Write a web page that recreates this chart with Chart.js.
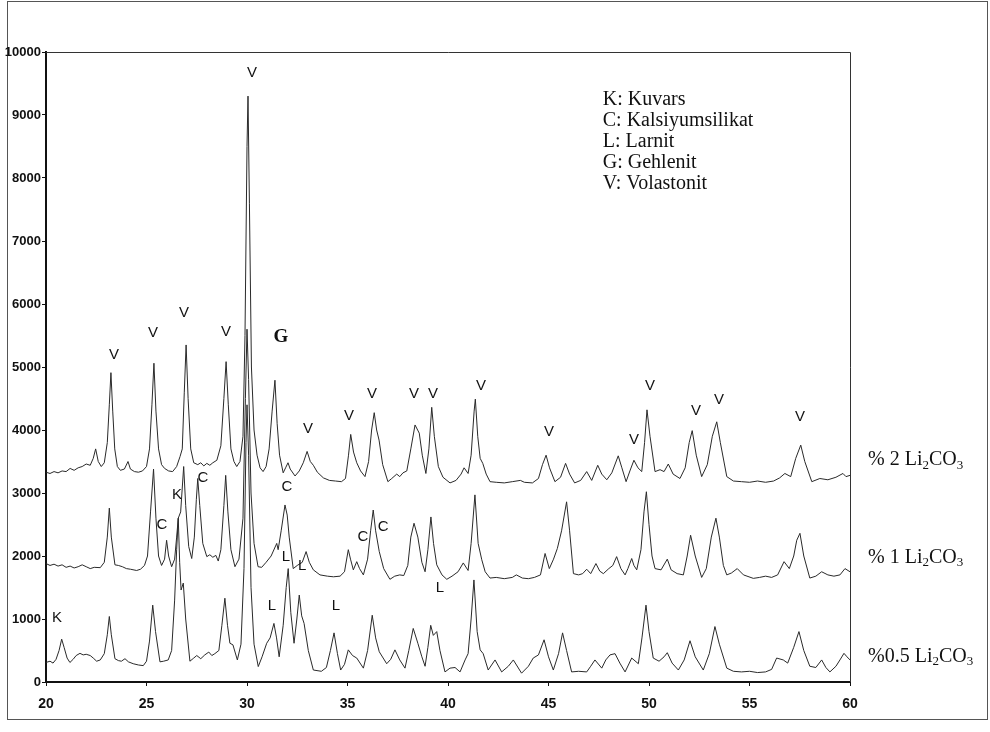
<!DOCTYPE html>
<html lang="tr">
<head>
    <meta charset="UTF-8">
    <title>XRD - Li2CO3</title>
    <style>
        body {
            margin: 0;
            background: #fff;
        }
        .chart-box {
            width: 990px;
            height: 732px;
        }
    </style>
</head>
<body>
    <div class="chart-box">
        <canvas id="xrdChart"></canvas>
    </div>

    <script src="https://cdn.jsdelivr.net/npm/chart.js"></script>
    <script>
// 2θ / şiddet verileri
const pattern2 = [
    [20.0,3330],[20.2,3310],[20.4,3340],[20.6,3320],[20.8,3350],[21.0,3340],[21.2,3390],[21.4,3360],[21.6,3400],[21.8,3420],
    [22.0,3460],[22.2,3440],[22.35,3550],[22.47,3700],[22.6,3500],[22.75,3420],[22.9,3480],[23.05,3800],[23.15,4400],[23.23,4910],
    [23.32,4300],[23.42,3700],[23.55,3420],[23.7,3360],[23.9,3380],[24.08,3500],[24.2,3380],[24.4,3340],[24.6,3330],[24.8,3350],
    [25.0,3420],[25.15,3700],[25.27,4400],[25.37,5060],[25.47,4300],[25.6,3700],[25.75,3450],[25.9,3390],[26.1,3350],[26.3,3340],
    [26.5,3420],[26.67,3580],[26.78,3700],[26.88,4600],[26.97,5350],[27.07,4500],[27.2,3700],[27.35,3480],[27.55,3450],[27.7,3480],
    [27.85,3430],[28.0,3470],[28.15,3440],[28.3,3480],[28.5,3520],[28.7,3750],[28.85,4500],[28.96,5085],[29.07,4400],[29.2,3700],
    [29.35,3500],[29.49,3420],[29.65,3500],[29.8,3900],[29.9,5500],[30.0,8500],[30.05,9300],[30.12,7600],[30.22,5000],[30.35,4000],
    [30.5,3600],[30.65,3400],[30.8,3340],[30.95,3420],[31.1,3700],[31.25,4300],[31.39,4790],[31.5,4100],[31.62,3600],[31.8,3320],
    [31.92,3400],[32.04,3480],[32.15,3380],[32.39,3270],[32.6,3350],[32.8,3480],[32.99,3660],[33.15,3500],[33.3,3440],[33.5,3330],
    [33.8,3240],[34.1,3200],[34.4,3190],[34.7,3180],[34.9,3230],[35.05,3600],[35.16,3930],[35.3,3650],[35.46,3480],[35.65,3350],
    [35.87,3260],[36.05,3500],[36.2,4000],[36.33,4275],[36.45,4000],[36.57,3840],[36.75,3450],[37.01,3180],[37.2,3230],[37.45,3300],
    [37.6,3260],[37.76,3320],[37.95,3350],[38.15,3700],[38.36,4080],[38.57,3950],[38.72,3600],[38.9,3310],[39.05,3700],[39.19,4360],
    [39.32,3900],[39.52,3420],[39.75,3250],[40.1,3160],[40.4,3200],[40.65,3300],[40.8,3400],[41.0,3310],[41.15,3600],[41.3,4300],
    [41.36,4490],[41.48,3900],[41.6,3550],[41.73,3470],[41.9,3300],[42.09,3180],[42.4,3170],[42.8,3160],[43.2,3180],[43.6,3200],
    [43.8,3170],[44.2,3160],[44.5,3230],[44.7,3450],[44.88,3600],[45.05,3400],[45.32,3180],[45.6,3250],[45.85,3470],[46.05,3300],
    [46.3,3160],[46.6,3200],[46.9,3340],[47.15,3200],[47.45,3440],[47.65,3300],[47.9,3210],[48.15,3320],[48.47,3590],[48.65,3400],
    [48.86,3180],[49.05,3350],[49.25,3520],[49.45,3400],[49.64,3340],[49.78,3800],[49.9,4320],[50.05,3900],[50.3,3340],[50.55,3370],
    [50.75,3340],[50.96,3460],[51.2,3300],[51.54,3230],[51.8,3400],[52.0,3800],[52.15,3990],[52.35,3600],[52.62,3260],[52.9,3450],
    [53.15,3900],[53.37,4130],[53.55,3800],[53.87,3260],[54.2,3190],[54.6,3180],[55.0,3170],[55.4,3190],[55.8,3170],[56.2,3190],
    [56.5,3240],[56.76,3310],[57.05,3260],[57.3,3550],[57.55,3760],[57.75,3500],[58.1,3180],[58.5,3230],[58.9,3210],[59.3,3250],
    [59.65,3310],[59.8,3260],[60.0,3280]
];

const pattern1 = [
    [20.0,1880],[20.2,1850],[20.4,1870],[20.6,1840],[20.8,1860],[21.0,1820],[21.2,1840],[21.4,1810],[21.6,1830],[21.8,1860],
    [22.0,1830],[22.2,1800],[22.4,1820],[22.7,1815],[22.9,1900],[23.05,2300],[23.15,2760],[23.25,2300],[23.43,1860],[23.6,1850],
    [23.8,1830],[24.0,1800],[24.2,1790],[24.51,1770],[24.7,1790],[24.9,1850],[25.05,2000],[25.2,2700],[25.35,3380],[25.47,2600],
    [25.6,2000],[25.75,1850],[25.9,1950],[26.0,2250],[26.1,2000],[26.25,1830],[26.4,1950],[26.5,2300],[26.58,2600],[26.7,2700],
    [26.85,3420],[26.95,2800],[27.1,2150],[27.25,1960],[27.38,2300],[27.48,2900],[27.55,3230],[27.65,2800],[27.8,2200],[28.0,1990],
    [28.15,2020],[28.3,1980],[28.45,2010],[28.57,1920],[28.7,2100],[28.85,2800],[28.94,3280],[29.05,2700],[29.2,2100],[29.4,1830],
    [29.6,1950],[29.8,2600],[29.92,4500],[30.0,5600],[30.08,4800],[30.2,3000],[30.35,2200],[30.55,1830],[30.73,1820],[30.95,1900],
    [31.2,2000],[31.48,2200],[31.55,2100],[31.7,2400],[31.89,2810],[32.0,2650],[32.1,2300],[32.3,1800],[32.5,1850],[32.75,1900],
    [32.94,2070],[33.1,1900],[33.3,1780],[33.63,1700],[34.0,1680],[34.3,1670],[34.63,1680],[34.85,1750],[35.04,2100],[35.15,1950],
    [35.29,1780],[35.46,1910],[35.6,1800],[35.79,1700],[36.0,1950],[36.15,2400],[36.28,2730],[36.4,2400],[36.58,2070],[36.8,1800],
    [37.11,1630],[37.35,1680],[37.6,1700],[37.8,1690],[38.0,1850],[38.15,2300],[38.31,2520],[38.5,2300],[38.7,1900],[38.86,1750],
    [39.0,2100],[39.15,2620],[39.28,2200],[39.44,1860],[39.7,1700],[39.94,1630],[40.2,1680],[40.5,1750],[40.76,1890],[41.0,1770],
    [41.15,2200],[41.34,2970],[41.5,2200],[41.68,1940],[41.85,1750],[42.09,1650],[42.4,1660],[42.8,1640],[43.2,1660],[43.4,1700],
    [43.7,1650],[44.0,1640],[44.3,1660],[44.6,1700],[44.83,2040],[45.04,1800],[45.25,1950],[45.44,2120],[45.65,2400],[45.9,2860],
    [46.05,2400],[46.24,1720],[46.5,1700],[46.7,1720],[46.9,1790],[47.1,1720],[47.36,1880],[47.55,1760],[47.73,1720],[48.0,1800],
    [48.2,1850],[48.39,1990],[48.6,1800],[48.81,1700],[48.95,1800],[49.14,1960],[49.25,1850],[49.39,1780],[49.6,2100],[49.75,2700],
    [49.87,3020],[50.0,2500],[50.15,2000],[50.3,1800],[50.6,1780],[50.91,1950],[51.1,1780],[51.4,1720],[51.71,1700],[51.9,2000],
    [52.07,2330],[52.3,2000],[52.62,1660],[52.85,1800],[53.1,2300],[53.33,2600],[53.5,2300],[53.7,1850],[53.87,1700],[54.1,1730],
    [54.39,1800],[54.7,1700],[55.19,1645],[55.5,1660],[55.8,1680],[56.1,1660],[56.4,1700],[56.72,1910],[56.98,1800],[57.2,2000],
    [57.35,2250],[57.51,2360],[57.7,2000],[58.0,1650],[58.3,1680],[58.59,1750],[58.9,1700],[59.2,1680],[59.5,1700],[59.75,1800],
    [60.0,1750]
];

const pattern05 = [
    [20.0,310],[20.2,330],[20.35,300],[20.5,360],[20.65,500],[20.78,680],[20.9,550],[21.05,380],[21.19,310],[21.35,360],
    [21.5,420],[21.69,455],[21.85,430],[22.0,440],[22.2,420],[22.35,380],[22.52,330],[22.7,350],[22.9,450],[23.05,750],
    [23.15,1040],[23.25,750],[23.43,370],[23.6,340],[23.75,330],[23.93,370],[24.1,320],[24.34,290],[24.6,270],[24.84,260],
    [25.0,330],[25.15,650],[25.31,1220],[25.45,800],[25.67,320],[25.85,330],[26.08,350],[26.25,500],[26.4,1300],[26.5,2100],
    [26.58,2600],[26.65,1900],[26.72,1460],[26.83,1570],[26.95,1000],[27.16,330],[27.35,380],[27.5,420],[27.7,370],[27.9,430],
    [28.1,475],[28.25,420],[28.4,450],[28.6,500],[28.75,900],[28.9,1330],[29.03,900],[29.15,615],[29.3,590],[29.52,350],
    [29.7,600],[29.85,1800],[29.95,3800],[30.0,4400],[30.08,3600],[30.2,1500],[30.35,600],[30.56,245],[30.75,400],[30.98,615],
    [31.15,700],[31.34,930],[31.47,700],[31.6,400],[31.8,900],[31.95,1500],[32.05,1800],[32.18,1100],[32.34,615],[32.48,1000],
    [32.6,1380],[32.72,1050],[32.84,930],[33.05,500],[33.3,190],[33.7,170],[33.95,230],[34.15,500],[34.33,780],[34.5,450],
    [34.66,190],[34.85,280],[35.04,510],[35.25,420],[35.46,380],[35.79,220],[36.0,500],[36.23,1060],[36.4,700],[36.58,480],
    [36.95,290],[37.15,360],[37.36,510],[37.6,350],[37.86,220],[38.05,500],[38.27,850],[38.5,615],[38.7,400],[38.86,250],
    [39.0,550],[39.14,900],[39.27,740],[39.44,800],[39.6,500],[39.85,160],[40.1,220],[40.35,230],[40.6,160],[40.85,350],
    [41.0,450],[41.15,1000],[41.29,1620],[41.45,800],[41.6,510],[41.75,450],[42.0,190],[42.34,350],[42.67,160],[43.0,250],
    [43.25,350],[43.66,140],[44.0,250],[44.24,380],[44.5,430],[44.78,670],[45.0,400],[45.24,190],[45.5,450],[45.7,780],
    [45.9,500],[46.15,160],[46.5,170],[46.9,160],[47.1,250],[47.31,350],[47.65,220],[47.85,350],[48.06,430],[48.31,450],
    [48.55,300],[48.81,160],[49.14,380],[49.47,290],[49.65,700],[49.85,1220],[50.0,800],[50.21,380],[50.5,330],[50.75,400],
    [50.91,465],[51.15,300],[51.46,190],[51.75,350],[52.04,655],[52.3,400],[52.7,190],[53.0,450],[53.28,880],[53.5,600],
    [53.87,220],[54.2,170],[54.6,160],[55.0,170],[55.4,150],[55.8,160],[56.1,200],[56.35,380],[56.68,350],[56.9,300],
    [57.2,550],[57.46,800],[57.7,500],[58.0,250],[58.3,230],[58.59,350],[58.8,230],[59.0,160],[59.3,250],[59.5,350],
    [59.7,455],[59.85,400],[60.0,350]
];

// faz işaretleri: [2θ, şiddet, harf]
const phaseMarks = [
    [23.38,5190,'V'],[25.32,5540,'V'],[26.87,5860,'V'],[28.96,5560,'V'],[30.25,9670,'V'],
    [33.03,4020,'V'],[35.07,4220,'V'],[36.22,4570,'V'],[38.31,4570,'V'],[39.25,4570,'V'],
    [41.64,4700,'V'],[45.02,3970,'V'],[49.25,3840,'V'],[50.05,4700,'V'],[52.34,4300,'V'],
    [53.48,4480,'V'],[57.51,4210,'V'],
    [25.77,2490,'C'],[26.52,2970,'K'],[27.81,3240,'C'],[31.99,3100,'C'],[35.77,2300,'C'],[36.77,2460,'C'],
    [20.55,1020,'K'],[31.24,1210,'L'],[31.94,1980,'L'],[32.74,1840,'L'],[34.43,1210,'L'],[39.6,1490,'L']
];
const gehlenitMark = [31.69, 5480, 'G'];

const legendLines = ['K: Kuvars', 'C: Kalsiyumsilikat', 'L: Larnit', 'G: Gehlenit', 'V: Volastonit'];
const sampleNames = ['% 2 Li', '% 1 Li', '%0.5 Li'];
const sampleLevels = [3520, 1980, 400];

const yTicks = [0,1000,2000,3000,4000,5000,6000,7000,8000,9000,10000];
const xTicks = [20,25,30,35,40,45,50,55,60];

function toPoints(arr) {
    return arr.map(p => ({ x: p[0], y: p[1] }));
}

const serif = '"Liberation Serif", "Times New Roman", serif';

function drawFormula(ctx, prefix, x, y) {
    // prefix + "2" (alt) + "CO" + "3" (alt)
    ctx.font = '20px ' + serif;
    ctx.fillText(prefix, x, y);
    x += ctx.measureText(prefix).width;
    ctx.font = '13px ' + serif;
    ctx.fillText('2', x, y + 5);
    x += ctx.measureText('2').width;
    ctx.font = '20px ' + serif;
    ctx.fillText('CO', x, y);
    x += ctx.measureText('CO').width;
    ctx.font = '13px ' + serif;
    ctx.fillText('3', x, y + 5);
}

const decorPlugin = {
    id: 'decor',
    beforeDraw(chart) {
        const ctx = chart.ctx;
        ctx.save();
        ctx.fillStyle = '#fff';
        ctx.fillRect(0, 0, chart.width, chart.height);
        // dış çerçeve
        ctx.strokeStyle = '#555';
        ctx.lineWidth = 1;
        ctx.strokeRect(7.5, 1.5, chart.width - 10, chart.height - 14);
        ctx.restore();
    },
    afterDatasetsDraw(chart) {
        const { ctx, chartArea: area, scales: { x, y } } = chart;
        ctx.save();

        // üst ve sağ kenar
        ctx.strokeStyle = '#333';
        ctx.lineWidth = 1;
        ctx.beginPath();
        ctx.moveTo(area.left, area.top + 0.5);
        ctx.lineTo(area.right + 0.5, area.top + 0.5);
        ctx.lineTo(area.right + 0.5, area.bottom);
        ctx.stroke();

        ctx.fillStyle = '#111';
        ctx.textAlign = 'center';
        ctx.textBaseline = 'middle';
        ctx.font = '15px "Liberation Sans", Arial, sans-serif';
        phaseMarks.forEach(m => {
            ctx.fillText(m[2], x.getPixelForValue(m[0]), y.getPixelForValue(m[1]));
        });
        ctx.font = 'bold 19px ' + serif;
        ctx.fillText(gehlenitMark[2], x.getPixelForValue(gehlenitMark[0]), y.getPixelForValue(gehlenitMark[1]));

        // açıklama
        ctx.textAlign = 'left';
        ctx.font = '20px ' + serif;
        const lx = x.getPixelForValue(47.7);
        const ly = y.getPixelForValue(9240);
        legendLines.forEach((t, i) => {
            ctx.fillText(t, lx, ly + i * 21);
        });

        // numune adları
        const sx = area.right + 18;
        sampleNames.forEach((t, i) => {
            drawFormula(ctx, t, sx, y.getPixelForValue(sampleLevels[i]));
        });

        ctx.restore();
    }
};

const ctx = document.getElementById('xrdChart').getContext('2d');
new Chart(ctx, {
    type: 'scatter',
    data: {
        datasets: [pattern2, pattern1, pattern05].map(d => ({
            data: toPoints(d),
            showLine: true,
            borderColor: '#2a2a2a',
            borderWidth: 1,
            pointRadius: 0,
            tension: 0
        }))
    },
    options: {
        responsive: true,
        maintainAspectRatio: false,
        animation: false,
        layout: { padding: { top: 52, right: 140, bottom: 0, left: 0 } },
        plugins: {
            legend: { display: false },
            tooltip: { enabled: false }
        },
        scales: {
            x: {
                type: 'linear',
                min: 20,
                max: 60,
                afterBuildTicks: axis => { axis.ticks = xTicks.map(v => ({ value: v })); },
                afterFit: axis => { axis.height = 50; },
                grid: { drawOnChartArea: false, drawTicks: true, tickLength: 4, color: '#111' },
                border: { display: true, color: '#111', width: 2 },
                ticks: {
                    color: '#111',
                    padding: 10,
                    callback: v => String(v),
                    font: { family: '"Liberation Sans Narrow", "Liberation Sans", Arial, sans-serif', size: 14, weight: 'bold' }
                }
            },
            y: {
                min: 0,
                max: 10000,
                afterBuildTicks: axis => { axis.ticks = yTicks.map(v => ({ value: v })); },
                afterFit: axis => { axis.width = 46; },
                grid: { drawOnChartArea: false, drawTicks: true, tickLength: 4, color: '#111' },
                border: { display: true, color: '#111', width: 2 },
                ticks: {
                    color: '#111',
                    padding: 1,
                    callback: v => String(v),
                    font: { family: '"Liberation Sans Narrow", "Liberation Sans", Arial, sans-serif', size: 13, weight: 'bold' }
                }
            }
        }
    },
    plugins: [decorPlugin]
});
    </script>
</body>
</html>
